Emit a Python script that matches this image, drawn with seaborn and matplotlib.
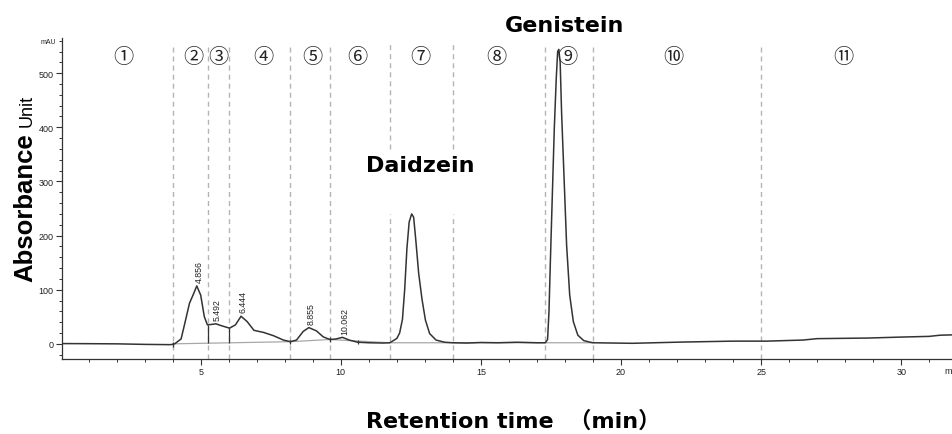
import numpy as np
import pandas as pd
import matplotlib
matplotlib.use("Agg")
import matplotlib.pyplot as plt
from matplotlib.ticker import MultipleLocator
import seaborn as sns

# ---- data ----
time_min = [0.05, 1.0, 2.0, 3.0, 3.9, 4.0, 4.07, 4.3, 4.42, 4.6, 4.75, 4.86, 5.0, 5.13, 5.24,
            5.4, 5.54, 5.77, 6.03, 6.24, 6.44, 6.66, 6.9, 7.25, 7.6, 7.95, 8.2, 8.42, 8.66,
            8.86, 9.13, 9.37, 9.61, 9.83, 10.06, 10.3, 10.6, 11.0, 11.5, 11.75, 12.0, 12.1,
            12.2, 12.28, 12.36, 12.44, 12.53, 12.6, 12.68, 12.78, 12.9, 13.02, 13.17, 13.4,
            13.7, 14.0, 14.5, 15.0, 15.6, 16.3, 17.0, 17.3, 17.38, 17.43, 17.48, 17.55, 17.62,
            17.69, 17.74, 17.78, 17.83, 17.88, 17.97, 18.06, 18.17, 18.3, 18.46, 18.67, 18.9,
            19.0, 20.4, 22.2, 24.0, 25.2, 26.5, 27.0, 28.8, 30.0, 31.0, 31.4, 31.85]
absorbance = [0.5, 0.3, 0, -1, -1.5, -1, 0, 9, 35, 75, 93, 107, 90, 50, 35,
              36, 37, 33, 29, 35, 51, 41, 25, 21, 15, 7, 4, 7, 23,
              30, 24, 13, 8, 9, 12, 7, 3, 2, 1.5, 2, 10, 20,
              45, 100, 176, 225, 240, 234, 190, 130, 82, 44, 19, 7,
              3, 2, 1.5, 2.5, 2, 3, 2, 2, 8, 59, 152, 275, 398,
              490, 540, 544, 520, 428, 305, 182, 90, 41, 16, 6, 3,
              2, 1, 3.3, 5, 5, 7, 9.6, 10.7, 12.5, 13.8, 16, 16.6]

baseline_t = [4.0, 8.2, 9.6, 11.75, 14.0, 17.3, 19.0]
baseline_a = [0, 4, 8, 2, 2, 2, 2]

fraction_bounds = [4.0, 5.27, 6.0, 8.2, 9.6, 11.75, 14.0, 17.3, 19.0, 25.0]
fraction_labels = ["①", "②", "③", "④", "⑤", "⑥", "⑦", "⑧", "⑨", "⑩", "⑪"]
fraction_label_t = [2.25, 4.75, 5.64, 7.25, 8.99, 10.6, 12.84, 15.56, 18.09, 21.87, 27.93]

peak_rt = [4.856, 5.492, 6.444, 8.855, 10.062]
peak_labels = ["4.856", "5.492", "6.444", "8.855", "10.062"]
peak_height = [107, 37, 51, 30, 12]

drop_lines = [5.27, 6.02]
integration_marks = [4.0, 8.2, 9.6, 10.6]

x_major = [5, 10, 15, 20, 25, 30]

# ---- figure ----
sns.set_theme(style="ticks")
plt.rcParams['font.family'] = ['Liberation Sans', 'DejaVu Sans']

W, H = 953, 435
fig = plt.figure(figsize=(W / 100, H / 100), dpi=100)
ax = fig.add_axes([62 / W, 75 / H, 891 / W, 321 / H])

df = pd.DataFrame({"t": time_min, "a": absorbance})
bdf = pd.DataFrame({"t": baseline_t, "a": baseline_a})
sns.lineplot(data=bdf, x="t", y="a", ax=ax, color="#a8a8a8", linewidth=0.9,
             sort=False, estimator=None, zorder=2)
sns.lineplot(data=df, x="t", y="a", ax=ax, color="#333333", linewidth=1.1,
             sort=False, estimator=None, zorder=3)

# drop lines and small integration marks
for t in drop_lines:
    top = np.interp(t, time_min, absorbance)
    bot = np.interp(t, baseline_t, baseline_a)
    ax.vlines(t, bot, top, color="#333333", lw=0.9, zorder=3)
for t in integration_marks:
    y = np.interp(t, time_min, absorbance)
    ax.vlines(t, y - 4, y + 4, color="#333333", lw=0.9, zorder=3)

# fraction boundaries
dash = (0, (3.6, 2.9))
for b in fraction_bounds:
    if b in (11.75, 14.0):
        ax.vlines(b, -28, 240, color="#b4b4b4", lw=1.0, linestyles=[dash], zorder=1)
        ax.vlines(b, 360, 555, color="#b4b4b4", lw=1.0, linestyles=[dash], zorder=1)
    else:
        ax.vlines(b, -28, 555, color="#b4b4b4", lw=1.0, linestyles=[dash], zorder=1)

for t, lab in zip(fraction_label_t, fraction_labels):
    ax.text(t, 531, lab, ha="center", va="center", fontsize=14.5, color="#222222",
            family=["Noto Sans CJK JP", "DejaVu Sans"], zorder=4)

for t, lab, h in zip(peak_rt, peak_labels, peak_height):
    ax.text(t + 0.08, h + 7, lab, rotation=90, ha="center", va="bottom",
            fontsize=6.3, color="#222222")

ax.set_xlim(0.05, 31.85)
ax.set_ylim(-28, 565)
ax.set_xticks(x_major)
ax.xaxis.set_minor_locator(MultipleLocator(1))
ax.yaxis.set_major_locator(MultipleLocator(100))
ax.yaxis.set_minor_locator(MultipleLocator(20))
ax.tick_params(which="major", length=4, width=0.8, labelsize=6.5, pad=2,
               color="#333333", labelcolor="#222222")
ax.tick_params(which="minor", length=2.5, width=0.7, color="#333333")
ax.set_xlabel("")
ax.set_ylabel("")
sns.despine(ax=ax)
for s in ("left", "bottom"):
    ax.spines[s].set_color("#333333")
    ax.spines[s].set_linewidth(0.9)

title_font = ["DejaVu Sans", "Noto Sans CJK JP"]
fig.text(565 / W, 1 - 32 / H, "Genistein", ha="center", va="baseline", fontsize=16,
         fontweight="bold", family=title_font, color="black")
fig.text(420 / W, 1 - 172 / H, "Daidzein", ha="center", va="baseline", fontsize=16,
         fontweight="bold", family=title_font, color="black")
fig.text(366 / W, 1 - 428 / H, "Retention time  （min）", ha="left", va="baseline",
         fontsize=16, fontweight="bold", family=title_font, color="black")
fig.text(32 / W, 1 - 282 / H, "Absorbance", rotation=90, rotation_mode="anchor",
         ha="left", va="baseline", fontsize=18.5, fontweight="bold", color="black")
fig.text(32 / W, 1 - 127 / H, "Unit", rotation=90, rotation_mode="anchor",
         ha="left", va="baseline", fontsize=13, color="black")
fig.text(48 / W, 1 - 43 / H, "mAU", ha="center", va="center", fontsize=5, color="#222222")
fig.text(948 / W, 1 - 372 / H, "m", ha="center", va="center", fontsize=6.5, color="#222222")

fig.savefig("out.png", dpi=100, facecolor="white")
